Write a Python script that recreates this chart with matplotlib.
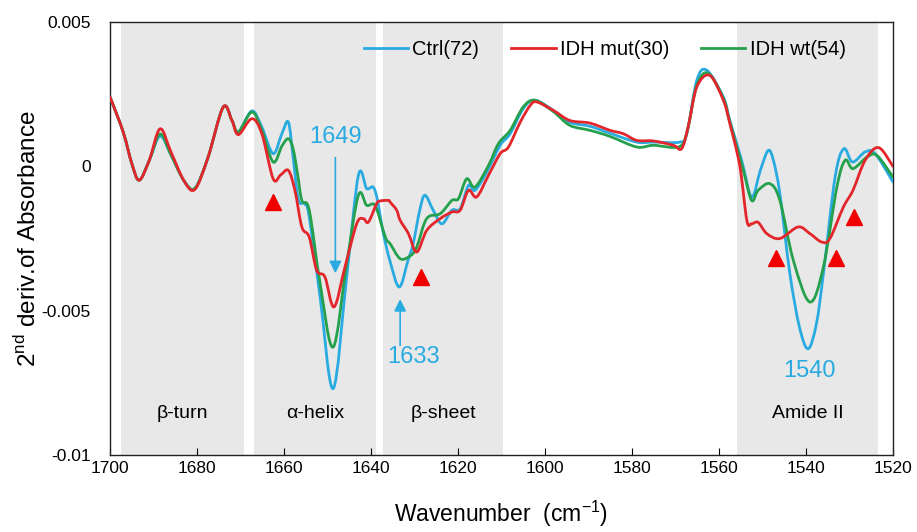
import numpy as np
import matplotlib
matplotlib.use("Agg")
import matplotlib.pyplot as plt
from matplotlib.path import Path
from matplotlib.patches import PathPatch
from matplotlib.lines import Line2D

plt.rcParams['font.family'] = ['Liberation Sans', 'DejaVu Sans']
plt.rcParams['mathtext.fontset'] = 'custom'
plt.rcParams['mathtext.rm'] = 'Liberation Sans'

# shared part of the three spectra (1700 - 1667 cm-1)
wn_common = [1700, 1697, 1695, 1693.3, 1691, 1688.5, 1686, 1683, 1680.5,
             1677.5, 1674, 1672, 1670.5, 1667.4, 1665.1]

# Ctrl(72)
wn_ctrl = wn_common + [1662.5, 1660.5, 1659, 1657.9, 1656.7, 1655.2, 1654.2,
                       1651.7, 1648.7, 1645.6, 1642.9, 1641.0, 1639.5, 1638.5,
                       1637.2, 1635.6, 1633.5, 1631.5, 1630.3, 1628.8, 1627.6,
                       1625.7, 1623.7, 1621.4, 1619.5, 1617.6, 1616.1, 1613.4,
                       1610.3, 1608.0, 1605.0, 1602.3, 1598.1, 1594.3, 1589.7,
                       1585.1, 1578.9, 1575.1, 1569.0, 1567.4, 1565.1, 1562.8,
                       1559.0, 1557.5, 1554.8, 1552.5, 1550.5, 1548.7, 1547.5,
                       1546.0, 1543.7, 1541.5, 1539.5, 1537.6, 1536.0, 1533.3,
                       1531.3, 1529.3, 1526.4, 1524.1, 1520]
ctrl = [0.0024, 0.0012, 0.0001, -0.00048, 0.0002, 0.00105, 0.0004, -0.0005,
        -0.00076, 0.0003, 0.00205, 0.0016, 0.00119, 0.00192, 0.00136,
        0.00044, 0.00113, 0.00153, 0.0003, -0.00115, -0.0013, -0.00176,
        -0.00453, -0.0077, -0.00383, -0.00031, -0.00077, -0.00072, -0.00118,
        -0.0023, -0.0033, -0.00418, -0.00326, -0.00268, -0.00152, -0.001,
        -0.00152, -0.00199, -0.00152, -0.00147, -0.00066, -0.00083, -0.0002,
        0.00073, 0.00113, 0.002, 0.00229, 0.00194, 0.00153, 0.00139,
        0.00115, 0.00084, 0.00084, 0.00084, 0.00113, 0.00298, 0.00333,
        0.0024, 0.00159, 0.00021, -0.00106, -0.00014, 0.00055, 0.00021,
        -0.00095, -0.00372, -0.00557, -0.00632, -0.00545, -0.00372, -0.00037,
        0.00061, 0.00015, 0.0005, 0.00044, -0.00054]

# IDH mut(30)
wn_mut = wn_common + [1662.5, 1660.8, 1659, 1657.5, 1655.9, 1654.2, 1652.5,
                      1650.6, 1648.5, 1646.0, 1643.3, 1641.8, 1640.6, 1638.7,
                      1637.9, 1636.0, 1635.6, 1634.1, 1633.3, 1631.4, 1629.5,
                      1627.2, 1624.1, 1621.4, 1619.5, 1617.6, 1615.7, 1613.0,
                      1610.3, 1608.4, 1605.7, 1603.4, 1601.9, 1598.1, 1594.3,
                      1589.7, 1585.1, 1582.0, 1578.9, 1575.1, 1570.5, 1568.6,
                      1567.1, 1565.1, 1562.1, 1559.0, 1557.5, 1555.2, 1553.6,
                      1552.5, 1551.0, 1549.0, 1546.0, 1541.8, 1539.1, 1536.4,
                      1534.5, 1531.4, 1529.2, 1526.4, 1523.3, 1520]
mut = [0.0024, 0.0012, 0.0001, -0.00048, 0.0002, 0.0013, 0.0005, -0.0005,
       -0.0008, 0.0003, 0.00205, 0.0016, 0.0011, 0.00165, 0.00113,
       -0.00043, -0.0003, -0.00014, -0.00083, -0.0021, -0.00245, -0.0036,
       -0.00383, -0.00487, -0.00349, -0.00199, -0.00181, -0.00193, -0.00129,
       -0.0012, -0.00118, -0.00124, -0.00152, -0.00187, -0.00233, -0.00297,
       -0.00222, -0.00181, -0.00158, -0.00152, -0.00083, -0.00106, -0.00031,
       0.00044, 0.00067, 0.00153, 0.00211, 0.00223, 0.00194, 0.00159,
       0.0015, 0.00125, 0.00113, 0.0009, 0.00088, 0.00073, 0.00061,
       0.00136, 0.00275, 0.00315, 0.00229, 0.00148, 0.0, -0.00187,
       -0.00199, -0.00194, -0.00233, -0.0025, -0.0021, -0.00233, -0.00262,
       -0.0025, -0.00141, -0.00083, 0.00021, 0.00065, 0.0]

# IDH wt(54)
wn_wt = wn_common + [1662.5, 1660.5, 1659, 1657.9, 1656.9, 1655.9, 1654.2,
                     1651.7, 1648.7, 1645.6, 1642.9, 1641.0, 1639.1, 1637.2,
                     1636.4, 1635.6, 1633.3, 1631.0, 1629.5, 1627.2, 1624.1,
                     1621.4, 1619.9, 1618.0, 1616.1, 1613.0, 1610.7, 1608.0,
                     1605.0, 1602.3, 1598.1, 1594.3, 1589.7, 1585.1, 1578.9,
                     1575.1, 1569.0, 1567.1, 1565.1, 1562.5, 1559.0, 1557.5,
                     1554.4, 1552.5, 1551.0, 1548.3, 1546.0, 1542.9, 1539.1,
                     1536.0, 1532.9, 1531.0, 1529.2, 1526.0, 1523.7, 1520]
wt = [0.0024, 0.0012, 0.0001, -0.00048, 0.0002, 0.00112, 0.0004, -0.0005,
      -0.00076, 0.0003, 0.00205, 0.0016, 0.00119, 0.00188, 0.00125,
      0.00015, 0.0007, 0.00096, 0.0006, -0.00025, -0.00118, -0.00152,
      -0.00406, -0.00626, -0.00337, -0.001, -0.00135, -0.00135, -0.00222,
      -0.00256, -0.00268, -0.0032, -0.0031, -0.0028, -0.00181, -0.00164,
      -0.00118, -0.00112, -0.00043, -0.00072, 0.00003, 0.00079, 0.00125,
      0.00206, 0.00229, 0.0019, 0.00142, 0.00125, 0.00104, 0.00067,
      0.00073, 0.00069, 0.00136, 0.00281, 0.00323, 0.00235, 0.00153,
      -0.00014, -0.00118, -0.00083, -0.0006, -0.00118, -0.00326, -0.0047,
      -0.00349, -0.00072, 0.00021, -0.00008, 0.00032, 0.00038, -0.00037]

# shaded regions and their names
band_lims = [(1697.5, 1669.2), (1666.9, 1638.9), (1637.2, 1609.7), (1555.9, 1523.4)]
band_names = ['β-turn', 'α-helix', 'β-sheet', 'Amide II']

# significant differences marked with red triangles
tri_wn = [1662.5, 1628.5, 1547.0, 1533.2, 1529.0]
tri_val = [-0.00124, -0.00383, -0.00319, -0.00319, -0.00176]

c_ctrl = '#29abe2'
c_mut = '#e3262b'
c_wt = '#25a04c'


def smooth_path(x, y):
    # smoothed line through the points (cubic bezier, catmull-rom tangents)
    p = np.column_stack([x, y]).astype(float)
    pp = np.vstack([p[0], p, p[-1]])
    verts = [p[0]]
    codes = [Path.MOVETO]
    for i in range(1, len(pp) - 2):
        c1 = pp[i] + (pp[i + 1] - pp[i - 1]) / 6.0
        c2 = pp[i + 1] - (pp[i + 2] - pp[i]) / 6.0
        verts += [c1, c2, pp[i + 1]]
        codes += [Path.CURVE4] * 3
    return Path(verts, codes)


fig = plt.figure(figsize=(9.17, 5.32), dpi=100)
ax = fig.add_axes([0.12, 0.1447, 0.8538, 0.8139])

for (a, b), name in zip(band_lims, band_names):
    ax.axvspan(a, b, color='#e8e8e8', lw=0, zorder=0)
    ax.text((a + b) / 2, -0.00855, name, ha='center', va='center', fontsize=14)

series = [(wn_ctrl, ctrl, c_ctrl, 'Ctrl(72)', 3),
          (wn_mut, mut, c_mut, 'IDH mut(30)', 4),
          (wn_wt, wt, c_wt, 'IDH wt(54)', 3.5)]
handles = []
for xs, ys, col, lab, z in series:
    ax.add_patch(PathPatch(smooth_path(xs, ys), fill=False, edgecolor=col,
                           lw=2, joinstyle='round', capstyle='round', zorder=z))
    handles.append(Line2D([], [], color=col, lw=2, label=lab))

ax.plot(tri_wn, tri_val, ls='none', marker='^', ms=11, color='#f00000', mec='#f00000', zorder=5)

# peak labels
ax.annotate('', xy=(1648.2, -0.0038), xytext=(1648.2, 0.0004),
            arrowprops=dict(arrowstyle='-|>', color=c_ctrl, lw=1.2, mutation_scale=18))
ax.text(1648.2, 0.0010, '1649', color=c_ctrl, fontsize=17, ha='center', va='center')
ax.annotate('', xy=(1633.3, -0.0045), xytext=(1633.3, -0.0063),
            arrowprops=dict(arrowstyle='-|>', color=c_ctrl, lw=1.2, mutation_scale=18))
ax.text(1630.3, -0.0066, '1633', color=c_ctrl, fontsize=17, ha='center', va='center')
ax.text(1539.2, -0.0071, '1540', color=c_ctrl, fontsize=17, ha='center', va='center')

ax.set_xlim(1700, 1520)
ax.set_ylim(-0.01, 0.005)
ax.set_xticks(np.arange(1700, 1519, -20))
ax.set_yticks([-0.01, -0.005, 0, 0.005])
ax.set_yticklabels(['-0.01', '-0.005', '0', '0.005'])
ax.tick_params(axis='x', direction='in', length=5, labelsize=12.5, pad=4)
ax.tick_params(axis='y', length=0, labelsize=12.5, pad=14)
for s in ax.spines.values():
    s.set_linewidth(1.0)
    s.set_color('#222222')

ax.set_xlabel('Wavenumber  (cm$^{-1}$)', fontsize=16.5, labelpad=17)
ax.set_ylabel(r'2$^{\mathrm{nd}}$ deriv.of Absorbance', fontsize=17.5, labelpad=0)

ax.legend(handles=handles, loc='upper left', bbox_to_anchor=(0.301, 1.0), ncol=3,
          frameon=False, fontsize=14.5, handlelength=2.2, columnspacing=1.6,
          handletextpad=0.2)

fig.savefig('out.png', dpi=100)
